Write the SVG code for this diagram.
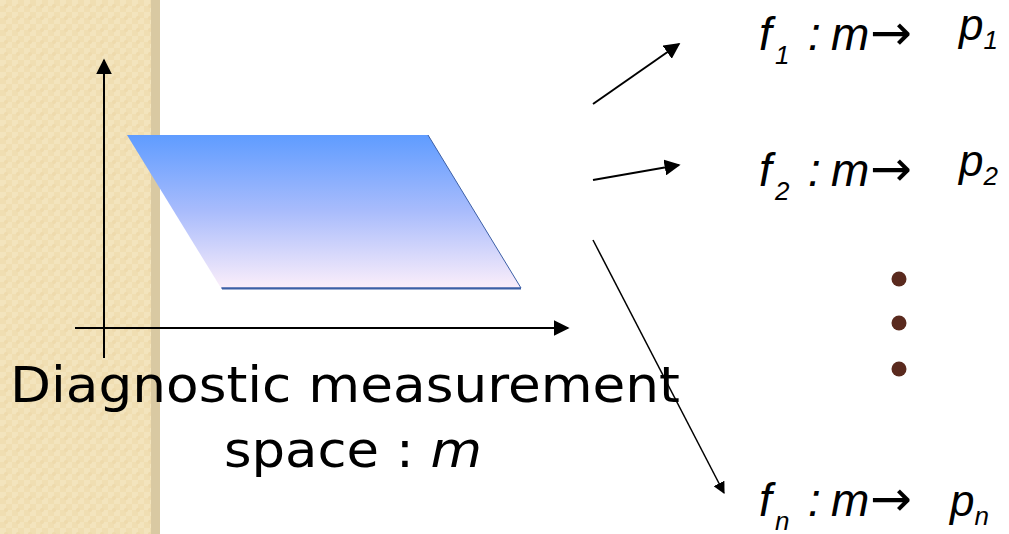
<svg xmlns="http://www.w3.org/2000/svg" width="1009" height="534" viewBox="0 0 1009 534">
<style>
.ax{stroke:#000;stroke-width:2;fill:none}
.cn{stroke:#000;fill:none}
.fm{font-family:"Liberation Sans",Arial,sans-serif;font-style:italic;fill:#000}
.ar{font-family:"DejaVu Sans",sans-serif;font-style:normal}
.lbl{font-family:"DejaVu Sans",sans-serif;fill:#000}
.dot{fill:#5a2a1e}
</style>
<defs>
<pattern id="chk" width="12" height="12" patternUnits="userSpaceOnUse">
<rect width="12" height="12" fill="#f0deb2"/>
<rect x="0" y="0" width="6" height="6" fill="#f3e4bd"/>
<rect x="6" y="6" width="6" height="6" fill="#f3e4bd"/>
<circle cx="6" cy="6" r="2" fill="#eedaac"/>
</pattern>
<linearGradient id="g" x1="0" y1="0" x2="0" y2="1">
<stop offset="0" stop-color="#5f9cff"/>
<stop offset="0.5" stop-color="#a9bcfc"/>
<stop offset="1" stop-color="#fbeefa"/>
</linearGradient>
<marker id="ah2" viewBox="0 0 10 10" refX="9" refY="5" markerWidth="8" markerHeight="8" orient="auto">
<path d="M0,0 L10,5 L0,10 z" fill="#000"/>
</marker>
</defs>
<rect x="0" y="0" width="1009" height="534" fill="#fff"/>
<g id="band">
<rect x="0" y="0" width="151" height="534" fill="url(#chk)"/>
<rect x="151" y="0" width="9" height="534" fill="#d9c9a2"/>
</g>
<g id="space">
<polygon points="127,135 428,135 521,288 221,288" fill="url(#g)"/>
<polyline points="428,135 521,288 221,288" fill="none" stroke="#3c5fa6" stroke-width="1"/>
<line x1="222" y1="288.5" x2="521" y2="288.5" stroke="#3c5fa6" stroke-width="2"/>
</g>
<g id="axes">
<line class="ax" x1="104" y1="358" x2="104" y2="60" marker-end="url(#ah2)"/>
<line class="ax" x1="75" y1="328" x2="568" y2="328" marker-end="url(#ah2)"/>
</g>
<g id="connectors">
<line class="cn" stroke-width="2" x1="593" y1="104" x2="679" y2="44" marker-end="url(#ah2)"/>
<line class="cn" stroke-width="2" x1="593" y1="180" x2="679" y2="165" marker-end="url(#ah2)"/>
<line class="cn" stroke-width="1.5" x1="593" y1="240" x2="724" y2="493" marker-end="url(#ah2)"/>
</g>
<g id="label">
<text class="lbl" x="10" y="402" font-size="50" textLength="670" lengthAdjust="spacingAndGlyphs">Diagnostic measurement</text>
<text class="lbl" x="224" y="467" font-size="50" textLength="258" lengthAdjust="spacingAndGlyphs">space : <tspan font-style="italic">m</tspan></text>
</g>
<g id="f1">
<text class="fm" font-size="46"><tspan x="759" y="50">f</tspan><tspan x="775" y="64" font-size="26">1</tspan><tspan x="808" y="50">:</tspan><tspan x="831" y="50">m</tspan><tspan class="ar" x="870" y="50" font-size="50">→</tspan></text>
<text class="fm" x="959" y="40" font-size="44">p<tspan font-size="26" dy="9">1</tspan></text>
</g>
<g id="f2">
<text class="fm" font-size="46"><tspan x="759" y="186">f</tspan><tspan x="775" y="200" font-size="26">2</tspan><tspan x="808" y="186">:</tspan><tspan x="831" y="186">m</tspan><tspan class="ar" x="870" y="186" font-size="50">→</tspan></text>
<text class="fm" x="959" y="176" font-size="44">p<tspan font-size="26" dy="9">2</tspan></text>
</g>
<g id="dots">
<circle class="dot" cx="899" cy="279" r="7.5"/>
<circle class="dot" cx="899" cy="323" r="7.5"/>
<circle class="dot" cx="899" cy="369" r="7.5"/>
</g>
<g id="fn">
<text class="fm" font-size="46"><tspan x="759" y="516">f</tspan><tspan x="775" y="530" font-size="26">n</tspan><tspan x="808" y="516">:</tspan><tspan x="831" y="516">m</tspan><tspan class="ar" x="870" y="516" font-size="50">→</tspan></text>
<text class="fm" x="950" y="516" font-size="44">p<tspan font-size="26" dy="9">n</tspan></text>
</g>
</svg>
